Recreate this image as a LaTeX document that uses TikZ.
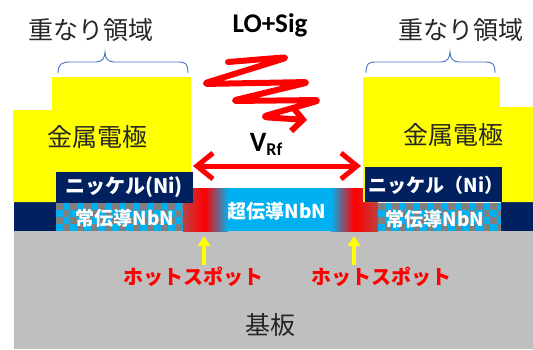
\documentclass[tikz,border=0pt]{standalone}
\usepackage{fontspec}
\setmainfont{Carlito}
\newfontfamily\jpfont{Noto Sans CJK JP}
\usepackage{tikz}
\usetikzlibrary{arrows.meta,positioning}
\definecolor{metalyellow}{RGB}{255,255,0}
\definecolor{niblue}{RGB}{0,32,96}
\definecolor{nbncyan}{RGB}{0,176,240}
\definecolor{nbngray}{RGB}{127,127,127}
\definecolor{subgray}{RGB}{191,191,191}
\definecolor{bracecol}{RGB}{68,114,196}
\definecolor{spotred}{RGB}{255,0,0}

\tikzset{
    jplabel/.style={font=\jpfont\fontsize{25}{28}\selectfont, text=black!85},
    filmlabel/.style={font=\jpfont\bfseries\fontsize{19}{22}\selectfont, text=white, inner sep=0pt},
    spotlabel/.style={font=\jpfont\bfseries\fontsize{20}{22}\selectfont, text=spotred, inner sep=0pt},
    overlap/.style={draw=bracecol, line width=0.9pt},
    spotarrow/.style={draw=metalyellow, line width=4pt, -{Triangle[length=10pt,width=12pt]}},
    rfarrow/.style={draw=spotred, line width=5pt, line cap=round,
        {Straight Barb[length=16pt,width=26pt]}-{Straight Barb[length=16pt,width=26pt]}},
}

\begin{document}
\begin{tikzpicture}[x=1pt,y=-1pt]
    \useasboundingbox (0,0) rectangle (533,349);

    % substrate
    \fill[subgray] (14,230) rectangle (533,349);
    \node[jplabel] (sub) at (270,325) {基板};

    % navy strips below the electrode tabs
    \fill[niblue] (14,202) rectangle (56,231);
    \fill[niblue] (501,202) rectangle (533,231);

    % superconducting NbN
    \fill[nbncyan] (228,188) rectangle (331,231);
    \node[filmlabel] (scnbn) at (277,211) {超伝導NbN};

    % hot spots
    \shade[left color=nbngray!50!spotred, right color=spotred] (183,188) rectangle (205,231);
    \shade[left color=spotred, right color=nbncyan] (205,188) rectangle (228,231);
    \shade[left color=nbncyan, right color=spotred] (331,188) rectangle (354,231);
    \shade[left color=spotred, right color=nbngray!50!spotred] (354,188) rectangle (378,231);

    % normal NbN (checkered)
    \begin{scope}
        \clip (56,203) rectangle (183,231);
        \fill[nbncyan] (56,203) rectangle (183,231);
        \foreach \i in {0,...,18} {
            \foreach \j in {0,...,3} {
                \pgfmathtruncatemacro\k{mod(\i+\j,2)}
                \ifnum\k=0 \fill[nbngray] (56+\i*7,203+\j*7) rectangle ++(7,7); \fi
            }
        }
    \end{scope}
    \begin{scope}
        \clip (378,203) rectangle (501,231);
        \fill[nbncyan] (378,203) rectangle (501,231);
        \foreach \i in {0,...,17} {
            \foreach \j in {0,...,3} {
                \pgfmathtruncatemacro\k{mod(\i+\j,2)}
                \ifnum\k=0 \fill[nbngray] (378+\i*7,203+\j*7) rectangle ++(7,7); \fi
            }
        }
    \end{scope}
    \node[filmlabel] (nnbnL) at (125,218) {常伝導NbN};
    \node[filmlabel] (nnbnR) at (435,219) {常伝導NbN};

    % metal electrodes
    \fill[metalyellow] (13,110) -- (52,110) -- (52,77) -- (191,77) -- (191,202) -- (13,202) -- cycle;
    \fill[metalyellow] (363,77) -- (500,77) -- (500,107) -- (533,107) -- (533,202) -- (363,202) -- cycle;
    \node[jplabel] (metalL) at (97,137) {金属電極};
    \node[jplabel] (metalR) at (453,135) {金属電極};

    % nickel layers
    \fill[niblue] (56,172) rectangle (193,203);
    \fill[niblue] (365,167) rectangle (502,202);
    \node[filmlabel, font=\jpfont\bfseries\fontsize{20}{22}\selectfont] (niL) at (124,187) {ニッケル(Ni)};
    \node[filmlabel, font=\jpfont\bfseries\fontsize{19}{22}\selectfont] (niR) at (436,185) {ニッケル（Ni）};

    % overlap braces
    \draw[overlap] (58,73) .. controls (58,64) and (62,62) .. (70,62) -- (96,62)
        .. controls (102,62) and (105,58) .. (105,52)
        .. controls (105,58) and (108,62) .. (114,62) -- (178,62)
        .. controls (186,62) and (188,64) .. (188,73);
    \draw[overlap] (366,73) .. controls (366,64) and (368,62) .. (376,62) -- (441,62)
        .. controls (447,62) and (450,58) .. (450,52)
        .. controls (450,58) and (453,62) .. (459,62) -- (485,62)
        .. controls (493,62) and (495,64) .. (495,73);
    \node[jplabel] (ovL) at (91,30) {重なり領域};
    \node[jplabel] (ovR) at (461,30) {重なり領域};

    % LO + signal
    \node[font=\bfseries\fontsize{27}{30}\selectfont] (losig) at (270,25) {LO+Sig};
    \coordinate (wave0) at (228,62);
    \coordinate (wave1) at (307,120);
    \draw[spotred, line width=6pt, line cap=round, line join=round, rounded corners=7pt,
          -{Straight Barb[length=11pt,width=24pt]}]
        (wave0) -- (289,57) -- (202,84) -- (310,82) -- (231,101) -- (321,100) -- (261,117) -- (wave1);

    % RF voltage
    \node[font=\bfseries\fontsize{28}{30}\selectfont] (vrf) at (266,144)
        {V\raisebox{-0.3ex}{\fontsize{18}{20}\selectfont Rf}};
    \coordinate (rfL) at (193,166);
    \coordinate (rfR) at (361,166);
    \draw[rfarrow] (rfL) -- (rfR);

    % hot spot markers
    \coordinate (spotL) at (204,236);
    \coordinate (spotR) at (354,236);
    \coordinate (footL) at (204,265);
    \coordinate (footR) at (354,265);
    \draw[spotarrow] (footL) -- (spotL);
    \draw[spotarrow] (footR) -- (spotR);
    \node[spotlabel] (hsL) at (193,277) {ホットスポット};
    \node[spotlabel] (hsR) at (381,277) {ホットスポット};
\end{tikzpicture}
\end{document}
